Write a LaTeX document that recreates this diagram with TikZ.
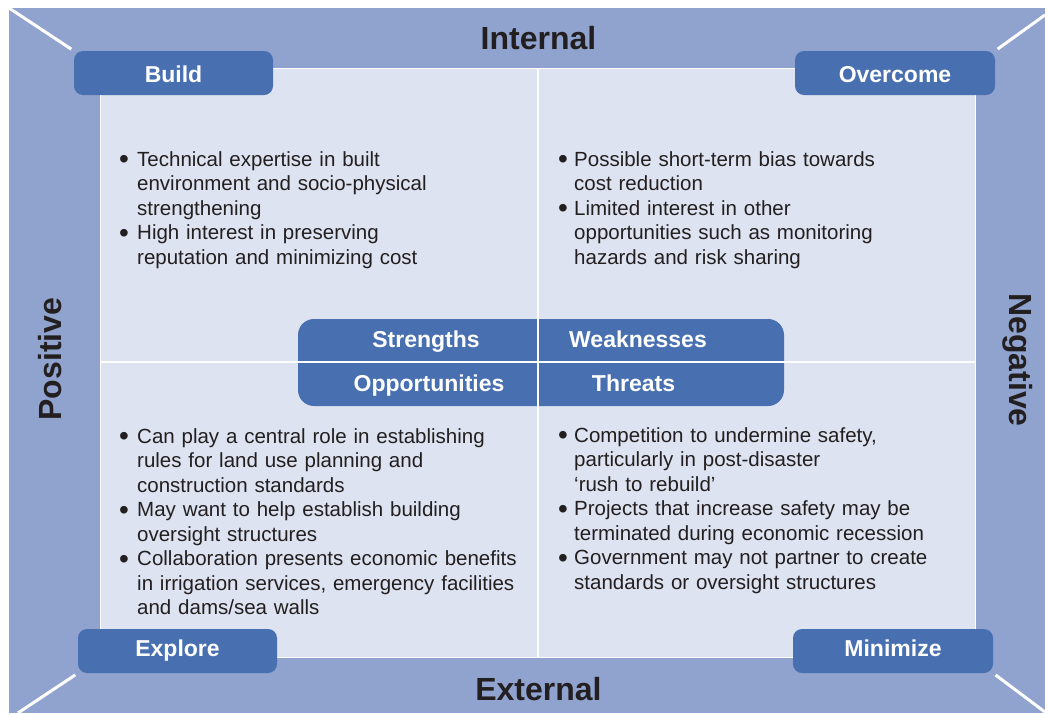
\documentclass[tikz,border=0pt]{standalone}
\usepackage{fontspec}
\setmainfont{Liberation Sans}
\usetikzlibrary{calc}
\definecolor{frameblue}{RGB}{143,163,206}
\definecolor{panelbg}{RGB}{221,227,240}
\definecolor{tabblue}{RGB}{72,112,176}
\definecolor{textdark}{RGB}{35,31,32}
\setlength{\parskip}{0pt}
\newcommand{\bitem}[2]{\hangindent=#1\hangafter=1\noindent\makebox[#1][l]{\raisebox{-2.6pt}{\fontsize{28}{28}\selectfont •}}#2\par}
\begin{document}
\begin{tikzpicture}[x=1pt,y=-1pt,
  tab/.style={fill=tabblue, rounded corners=9pt, minimum width=199pt, minimum height=44pt, inner sep=0pt, text=white, font=\fontsize{23}{26}\selectfont\bfseries},
  tabtop/.style={tab, text height=18pt, text depth=0pt},
  tabbot/.style={tab, text height=16.8pt, text depth=5.4pt},
  pilltext/.style={text=white, font=\fontsize{23}{26}\selectfont\bfseries, inner sep=0pt, anchor=base},
  side/.style={text=textdark, font=\fontsize{32}{36}\selectfont\bfseries, inner sep=0pt, anchor=base},
  body/.style={text=textdark, font=\fontsize{20.5}{24.5}\selectfont, text width=430pt, inner sep=0pt, anchor=base west},
  divider/.style={white, line width=2.5pt},
  diag/.style={white, line width=3pt, shorten >=3pt}]
\useasboundingbox (0,0) rectangle (1045,713);
\fill[white] (0,0) rectangle (1045,713);
\fill[frameblue] (9,8) rectangle (1045,713);
\fill[panelbg] (100,68) rectangle (975,657);
\draw[white, line width=0.8pt] (100,68) rectangle (975,657);
% centre pill
\fill[tabblue, rounded corners=16pt] (298,319) rectangle (784,406);
\draw[divider] (538,68) -- (538,657);
\draw[divider] (100,362) -- (975,362);
% corner tabs
\node[tabtop] (build) at (173.5,73) {Build};
\node[tabtop, minimum width=200pt] (overcome) at (895,73) {Overcome};
\node[tabbot] (explore) at (177.5,651) {Explore};
\node[tabbot, minimum width=200pt] (minimize) at (893,651) {Minimize};
% diagonals
\coordinate (tlc) at (9,8);
\coordinate (trc) at (1045,15);
\coordinate (blc) at (18,713);
\coordinate (brc) at (1045,712);
\draw[diag] (tlc) -- (build.north west);
\draw[diag] (trc) -- (overcome.north east);
\draw[diag] (blc) -- (explore.south west);
\draw[diag] (brc) -- (minimize.south east);
% pill labels
\node[pilltext] (str) at (426,347.5) {Strengths};
\node[pilltext] (weak) at (638,347) {Weaknesses};
\node[pilltext] (opp) at (429,391) {Opportunities};
\node[pilltext] (thr) at (633.5,391) {Threats};
% side labels
\node[side] (internal) at (538.5,49) {Internal};
\node[side] (external) at (538.5,700) {External};
\node[side, rotate=90] (positive) at (61,359) {Positive};
\node[side, rotate=-90] (negative) at (1009.5,360) {Negative};
% quadrant texts
\node[body] (stext) at (119,166) {\bitem{18pt}{Technical expertise in built\newline environment and socio-physical\newline strengthening}\bitem{18pt}{High interest in preserving\newline reputation and minimizing cost}};
\node[body] (wtext) at (558,166) {\bitem{16pt}{Possible short-term bias towards\newline cost reduction}\bitem{16pt}{Limited interest in other\newline opportunities such as monitoring\newline hazards and risk sharing}};
\node[body] (otext) at (119,443) {\bitem{18pt}{Can play a central role in establishing\newline rules for land use planning and\newline construction standards}\bitem{18pt}{May want to help establish building\newline oversight structures}\bitem{18pt}{Collaboration presents economic benefits\newline in irrigation services, emergency facilities\newline and dams/sea walls}};
\node[body] (ttext) at (558,442) {\bitem{16pt}{Competition to undermine safety,\newline particularly in post-disaster\newline ‘rush to rebuild’}\bitem{16pt}{Projects that increase safety may be\newline terminated during economic recession}\bitem{16pt}{Government may not partner to create\newline standards or oversight structures}};
\end{tikzpicture}
\end{document}
